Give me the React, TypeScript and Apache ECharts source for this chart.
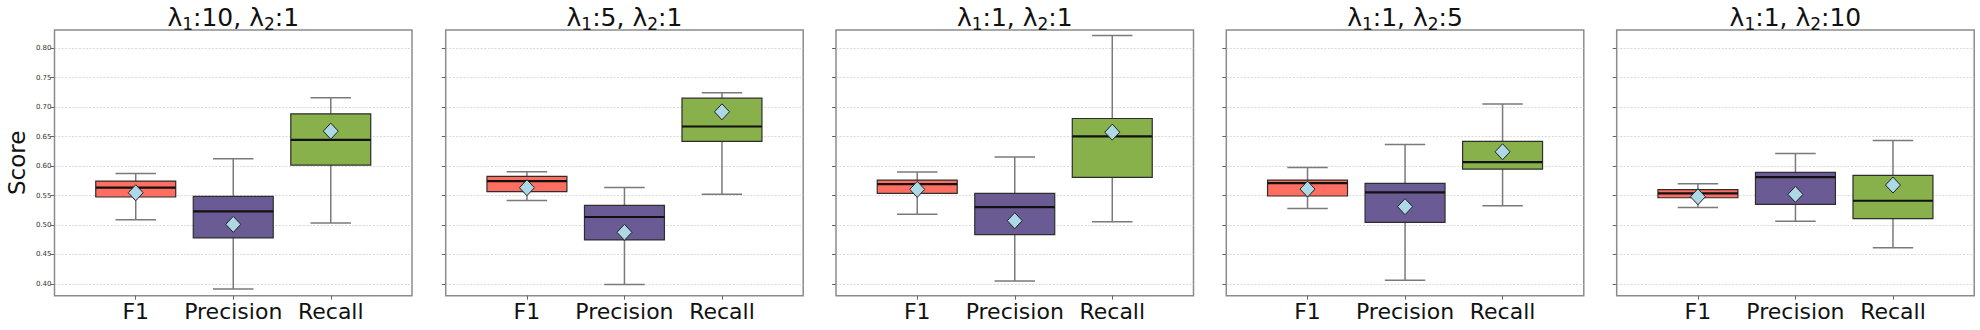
import React, { useEffect, useRef } from 'react';
import * as echarts from 'echarts';

// lambda1, lambda2 for each panel
const lambda1 = ['10', '5', '1', '1', '1'];
const lambda2 = ['1', '1', '1', '5', '10'];
const categories = ['F1', 'Precision', 'Recall'];
const colors = ['#FF6F61', '#6B5B95', '#88B04B'];
const yTicks = [0.4, 0.45, 0.5, 0.55, 0.6, 0.65, 0.7, 0.75, 0.8];

// [whisker low, q1, median, q3, whisker high] per panel
const f1Stats = [
  [0.509, 0.5475, 0.5633, 0.5746, 0.5876],
  [0.5418, 0.5565, 0.5746, 0.5825, 0.5904],
  [0.5181, 0.5537, 0.5695, 0.5763, 0.5898],
  [0.5282, 0.5492, 0.5712, 0.5763, 0.5977],
  [0.5299, 0.5463, 0.5537, 0.5599, 0.5701],
];
const precisionStats = [
  [0.3915, 0.478, 0.5232, 0.5486, 0.6124],
  [0.3989, 0.4746, 0.5136, 0.5333, 0.5638],
  [0.4051, 0.4836, 0.5305, 0.5537, 0.6153],
  [0.4062, 0.5045, 0.5554, 0.5706, 0.6367],
  [0.5062, 0.535, 0.5814, 0.5893, 0.6215],
];
const recallStats = [
  [0.5034, 0.6017, 0.6446, 0.6887, 0.7158],
  [0.552, 0.6418, 0.6672, 0.7153, 0.7243],
  [0.5056, 0.5808, 0.6503, 0.6808, 0.8215],
  [0.5328, 0.5949, 0.6068, 0.6418, 0.7056],
  [0.4616, 0.5107, 0.5412, 0.5842, 0.6435],
];
const f1Means = [0.5548, 0.5633, 0.5605, 0.561, 0.548];
const precisionMeans = [0.5011, 0.4876, 0.5073, 0.5311, 0.552];
const recallMeans = [0.6593, 0.6921, 0.6576, 0.6243, 0.5678];

const FONT = 'DejaVu Sans';
const PANEL_LEFT = [54.5, 445.7, 836, 1226.3, 1616.7];
const PANEL_W = 357.5;
const PANEL_TOP = 30;
const PANEL_H = 265.7;
const BOX_W = 0.82;
const CAP_W = 0.415;

export default function App() {
  const ref = useRef<HTMLDivElement>(null);

  useEffect(() => {
    if (!ref.current) return;
    const chart = echarts.init(ref.current, undefined, { renderer: 'svg' });
    const statsByCat = [f1Stats, precisionStats, recallStats];
    const meansByCat = [f1Means, precisionMeans, recallMeans];

    const grid: any[] = [];
    const xAxis: any[] = [];
    const yAxis: any[] = [];
    const series: any[] = [];
    const graphic: any[] = [];

    PANEL_LEFT.forEach((left, p) => {
      grid.push({
        left,
        top: PANEL_TOP,
        width: PANEL_W,
        height: PANEL_H,
        show: true,
        borderColor: '#8c8c8c',
        borderWidth: 1.5,
        backgroundColor: 'transparent',
      });
      xAxis.push({
        gridIndex: p,
        type: 'value',
        position: 'bottom',
        min: -0.833,
        max: 2.833,
        axisLine: { show: false, onZero: false },
        axisTick: {
          show: true,
          customValues: [0, 1, 2],
          length: 4,
          lineStyle: { color: '#666', width: 1 },
        },
        axisLabel: {
          customValues: [0, 1, 2],
          formatter: (v: number) => `{c|${categories[Math.round(v)]}}`,
          margin: 3,
          rich: {
            c: { fontSize: 22, fontFamily: FONT, color: '#111', lineHeight: 26 },
          },
        },
        splitLine: { show: false },
      });
      yAxis.push({
        gridIndex: p,
        type: 'value',
        position: 'left',
        min: 0.38,
        max: 0.831,
        axisLine: { show: false, onZero: false },
        axisTick: {
          show: true,
          customValues: yTicks,
          length: 4,
          lineStyle: { color: '#666', width: 1 },
        },
        axisLabel: {
          show: p === 0,
          customValues: yTicks,
          fontSize: 7,
          fontFamily: FONT,
          color: '#333',
          margin: 3,
          formatter: (v: number) => v.toFixed(2),
        },
        splitLine: {
          show: true,
          lineStyle: { color: '#d0d0d0', width: 0.8, type: [2, 1.5] },
        },
      });
      const data = categories.map((_, i) => [i, ...statsByCat[i][p], meansByCat[i][p]]);
      series.push({
        type: 'custom',
        xAxisIndex: p,
        yAxisIndex: p,
        data,
        encode: { x: 0, y: [1, 2, 3, 4, 5, 6] },
        renderItem: (params: any, api: any) => {
          const idx = params.dataIndex;
          const x = api.value(0);
          const lo = api.value(1);
          const q1 = api.value(2);
          const md = api.value(3);
          const q3 = api.value(4);
          const hi = api.value(5);
          const mean = api.value(6);
          const cx = api.coord([x, md])[0];
          const yy = (v: number) => api.coord([x, v])[1];
          const halfW = api.size([BOX_W, 0])[0] / 2;
          const capHalf = api.size([CAP_W, 0])[0] / 2;
          const wStyle = { stroke: '#7a7a7a', lineWidth: 1.5 };
          const ym = yy(mean);
          return {
            type: 'group',
            children: [
              { type: 'line', shape: { x1: cx, y1: yy(lo), x2: cx, y2: yy(q1) }, style: wStyle },
              { type: 'line', shape: { x1: cx, y1: yy(q3), x2: cx, y2: yy(hi) }, style: wStyle },
              { type: 'line', shape: { x1: cx - capHalf, y1: yy(lo), x2: cx + capHalf, y2: yy(lo) }, style: wStyle },
              { type: 'line', shape: { x1: cx - capHalf, y1: yy(hi), x2: cx + capHalf, y2: yy(hi) }, style: wStyle },
              {
                type: 'rect',
                shape: { x: cx - halfW, y: yy(q3), width: halfW * 2, height: yy(q1) - yy(q3) },
                style: { fill: colors[idx], stroke: '#2e2e2e', lineWidth: 1.2 },
              },
              { type: 'line', shape: { x1: cx - halfW, y1: yy(md), x2: cx + halfW, y2: yy(md) }, style: { stroke: '#111', lineWidth: 2.2 } },
              {
                type: 'polygon',
                shape: { points: [[cx, ym - 8], [cx + 7.5, ym], [cx, ym + 8], [cx - 7.5, ym]] },
                style: { fill: '#ADD8E6', stroke: '#222', lineWidth: 1 },
              },
            ],
          };
        },
      });
      graphic.push({
        type: 'text',
        x: left + PANEL_W / 2,
        y: 2,
        style: {
          text: `{a|λ}{b|1}{a|:${lambda1[p]}, λ}{b|2}{a|:${lambda2[p]}}`,
          align: 'center',
          verticalAlign: 'top',
          fill: '#111',
          rich: {
            a: { fontSize: 25, fontFamily: FONT, lineHeight: 30, fill: '#111' },
            b: { fontSize: 17, fontFamily: FONT, lineHeight: 14, verticalAlign: 'bottom', fill: '#111' },
          },
        },
      });
    });

    graphic.push({
      type: 'text',
      x: 17,
      y: PANEL_TOP + PANEL_H / 2,
      rotation: Math.PI / 2,
      style: {
        text: '{s|Score}',
        align: 'center',
        verticalAlign: 'middle',
        rich: { s: { fontSize: 23, fontFamily: FONT, fill: '#111' } },
      },
    });

    chart.setOption({
      animation: false,
      backgroundColor: '#fff',
      grid,
      xAxis,
      yAxis,
      series,
      graphic,
    });
    return () => chart.dispose();
  }, []);

  return (
    <div
      ref={ref}
      style={{ position: 'fixed', left: 0, top: 0, width: 1980, height: 330 }}
    />
  );
}
